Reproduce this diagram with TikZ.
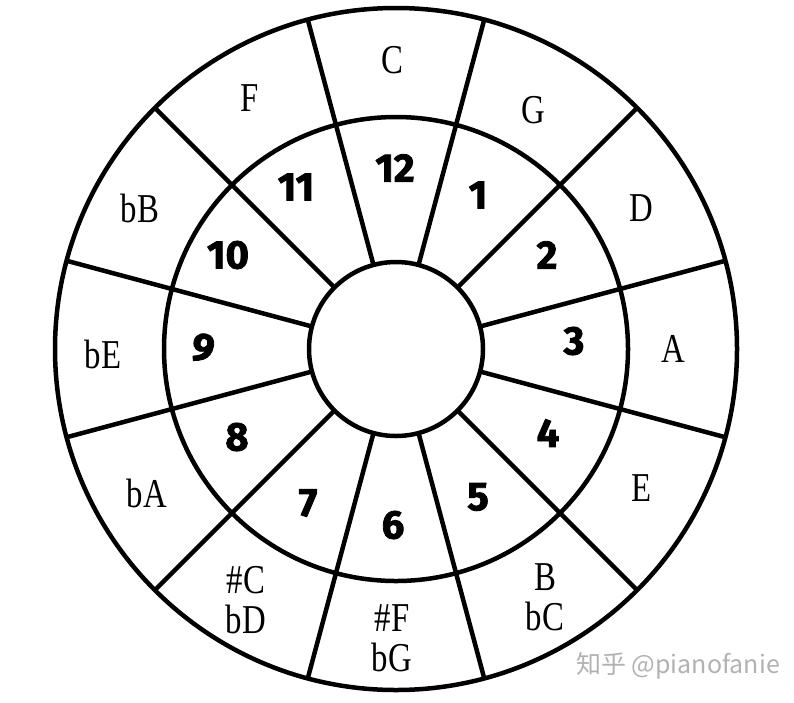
\documentclass[tikz,border=0pt]{standalone}
\usepackage{fontspec}
\newfontfamily\notefont[FakeStretch=0.8]{Liberation Serif}
\newfontfamily\numfont[BoldFeatures={FakeBold=2}]{Fira Sans}
\newfontfamily\cjkfont{Noto Sans CJK SC}
\begin{document}
\begin{tikzpicture}[x=1pt,y=-1pt,line width=4.5pt,
  ring/.style={circle,draw,inner sep=0pt,outer sep=0pt},
  note/.style={font=\notefont\fontsize{41}{40}\selectfont,align=center,inner sep=0pt},
  num/.style={font=\numfont\bfseries\fontsize{40}{40}\selectfont,inner sep=0pt},
  wmark/.style={font=\cjkfont\fontsize{25}{25}\selectfont,text=black!30,inner sep=0pt}]
\useasboundingbox (0,0) rectangle (794,702);
\fill[white] (0,0) rectangle (794,702);
\coordinate (c) at (396,349);
\node[ring,minimum size=682pt] (rim) at (c) {};
\node[ring,minimum size=464pt] (mid) at (c) {};
\node[ring,minimum size=174pt] (hub) at (c) {};
\foreach \a in {15,45,...,345} \draw (hub.\a) -- (rim.\a);
% outer ring: keys
\node[note] (kC) at (392,60) {C};
\node[note] (kG) at (533,110) {G};
\node[note] (kD) at (641,208) {D};
\node[note] (kA) at (673,349) {A};
\node[note] (kE) at (642,488) {E};
\node[note] (kB) at (545,597) {B\\bC};
\node[note] (kFs) at (392,638) {\#F\\bG};
\node[note] (kCs) at (246,600) {\#C\\bD};
\node[note] (kAb) at (147,493) {bA};
\node[note] (kEb) at (103,354) {bE};
\node[note] (kBb) at (140,208) {bB};
\node[note] (kF) at (250,98) {F};
% middle ring: numbers
\node[num] (n12) at (395,168) {12};
\node[num] (n1) at (478,195) {1};
\node[num] (n2) at (547,255) {2};
\node[num] (n3) at (574,341) {3};
\node[num] (n4) at (548,433) {4};
\node[num] (n5) at (478,497) {5};
\node[num] (n6) at (393,525) {6};
\node[num] (n7) at (308,503) {7};
\node[num] (n8) at (237,437) {8};
\node[num,rotate=-12] (n9) at (203,348) {9};
\node[num] (n10) at (228,255) {10};
\node[num] (n11) at (296,187) {11};
\node[wmark] (wm) at (678,666) {知乎 @pianofanie};
\end{tikzpicture}
\end{document}
